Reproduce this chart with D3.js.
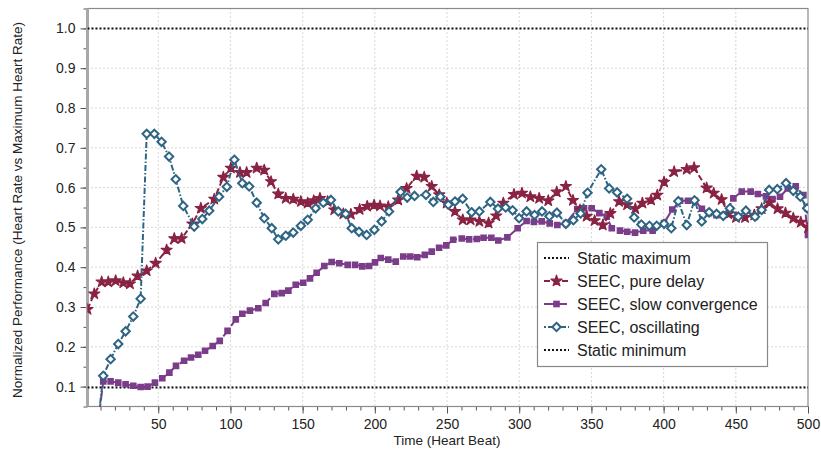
<!DOCTYPE html>
<html>
<head>
<meta charset="utf-8">
<script src="https://cdn.jsdelivr.net/npm/d3@7/dist/d3.min.js"></script>
<style>
  body { margin: 0; background: #fff; }
  text { font-family: "Liberation Sans", Arial, sans-serif; fill: #222; }
</style>
</head>
<body>
<svg id="chart" width="821" height="450"></svg>
<script>
// static bounds
var staticMax = 1.0;
var staticMin = 0.098;

// [heart beat, normalized performance]
var pureDelay = [
  [1, 0.294], [5.7, 0.333], [10.8, 0.363], [15.4, 0.363], [20.5, 0.366], [25.8, 0.361],
  [30.4, 0.358], [35.7, 0.378], [42, 0.391], [48.2, 0.410], [55.8, 0.443], [61.1, 0.472],
  [66.2, 0.472], [73.6, 0.509], [79.5, 0.548], [88.8, 0.571], [95.1, 0.626], [100.3, 0.649],
  [106.6, 0.638], [111.2, 0.638], [118.2, 0.649], [123.4, 0.644], [128.1, 0.615], [133.1, 0.584],
  [138.3, 0.573], [143.5, 0.571], [148.8, 0.565], [153.5, 0.561], [157.7, 0.567], [162, 0.573],
  [167.3, 0.565], [171.9, 0.544], [178.2, 0.534], [183.4, 0.533], [189.5, 0.545], [194.7, 0.553],
  [199.5, 0.556], [203.6, 0.554], [209.3, 0.552], [216.2, 0.569], [222, 0.598], [229, 0.629],
  [234.2, 0.626], [239.4, 0.603], [244.6, 0.582], [249.8, 0.561], [255.5, 0.540], [260.9, 0.519],
  [266.3, 0.519], [272.4, 0.515], [278.8, 0.511], [284.1, 0.529], [289, 0.561], [296.4, 0.583],
  [301.9, 0.586], [307.7, 0.577], [313.8, 0.573], [320.1, 0.567], [326, 0.589], [332.3, 0.603],
  [337.2, 0.568], [342.1, 0.544], [346.7, 0.528], [352.2, 0.517], [357.9, 0.506], [363.1, 0.535],
  [369.2, 0.565], [374.7, 0.557], [380.4, 0.547], [385.3, 0.561], [391.3, 0.569], [395.6, 0.581],
  [400.3, 0.614], [407.3, 0.640], [416, 0.646], [421.1, 0.650], [429.8, 0.599], [434.7, 0.586],
  [440.2, 0.570], [444.8, 0.534], [450.1, 0.525], [456.4, 0.525], [462.8, 0.531], [467.9, 0.547],
  [473.3, 0.562], [478.9, 0.547], [484.4, 0.536], [489.8, 0.523], [495, 0.513], [500, 0.499]
];

var slowConvergence = [
  [8, 0.0], [11.9, 0.113], [17, 0.113], [22.3, 0.110], [27.4, 0.106], [32.7, 0.102],
  [37.8, 0.099], [42.6, 0.100], [47.7, 0.110], [52.8, 0.121], [57.7, 0.135], [62.3, 0.152],
  [67.9, 0.165], [72.7, 0.173], [77.7, 0.180], [82.4, 0.190], [87.7, 0.202], [92.6, 0.215],
  [98, 0.240], [103.7, 0.269], [108.2, 0.283], [113.5, 0.291], [119.3, 0.297], [124.4, 0.310],
  [130.4, 0.333], [135.5, 0.335], [140.1, 0.341], [145.2, 0.356], [150.4, 0.361], [155.1, 0.372],
  [159.7, 0.386], [165, 0.403], [170.1, 0.413], [175.4, 0.410], [181.2, 0.406], [186.3, 0.406],
  [191.3, 0.402], [196, 0.403], [200.1, 0.412], [204.1, 0.423], [209.3, 0.419], [214.5, 0.414],
  [219.7, 0.427], [224.6, 0.427], [229.4, 0.425], [234.6, 0.431], [239.4, 0.439], [244.5, 0.449],
  [249.5, 0.455], [254.3, 0.469], [260.2, 0.472], [265.3, 0.470], [270.6, 0.471], [275.3, 0.474],
  [280.7, 0.474], [285.5, 0.467], [291.8, 0.475], [298.9, 0.498], [305.1, 0.516], [310.2, 0.514],
  [315.6, 0.515], [321.1, 0.510], [326.4, 0.506], [332.4, 0.511], [340.2, 0.546], [344.9, 0.548],
  [350.2, 0.548], [355.5, 0.536], [360.6, 0.527], [364.1, 0.498], [369.8, 0.492], [374.8, 0.489],
  [380.2, 0.487], [385.9, 0.492], [392.4, 0.492], [400.3, 0.511], [406, 0.545], [411.4, 0.567],
  [416.9, 0.567], [421.7, 0.567], [426.5, 0.547], [431.5, 0.536], [436.6, 0.531], [442.5, 0.532],
  [448.3, 0.573], [454.1, 0.590], [460.3, 0.590], [465.3, 0.584], [470.9, 0.578], [475.4, 0.571],
  [480.6, 0.577], [486, 0.598], [491.5, 0.603], [496.8, 0.581], [500, 0.481]
];

var oscillating = [
  [8, 0.0], [11.9, 0.127], [17, 0.169], [22.3, 0.207], [27.4, 0.239], [32.7, 0.276],
  [37.8, 0.321], [42, 0.735], [47.3, 0.735], [52.3, 0.715], [57.5, 0.678], [62.1, 0.621],
  [67.3, 0.554], [74.9, 0.502], [80.5, 0.521], [85.3, 0.542], [92.1, 0.577], [97.5, 0.602],
  [102.7, 0.670], [108.2, 0.611], [113, 0.603], [118.2, 0.562], [123.4, 0.523], [128.6, 0.498],
  [133.1, 0.470], [138.3, 0.479], [143.5, 0.487], [148.8, 0.504], [153.5, 0.519], [159, 0.548],
  [164.3, 0.562], [169.6, 0.569], [174.7, 0.540], [179.8, 0.534], [184, 0.498], [189, 0.489],
  [194.3, 0.481], [199.7, 0.494], [204.7, 0.515], [209.8, 0.540], [217.8, 0.589], [222.4, 0.575],
  [227.5, 0.579], [235.4, 0.582], [240.5, 0.564], [245.4, 0.577], [250.9, 0.557], [255.5, 0.565],
  [260.8, 0.572], [267, 0.538], [272.4, 0.540], [280, 0.564], [285.3, 0.547], [290.6, 0.550],
  [295.4, 0.543], [299.9, 0.523], [305.1, 0.540], [310.6, 0.531], [315.8, 0.540], [320.9, 0.528],
  [326.1, 0.537], [332.3, 0.509], [337.5, 0.518], [342.5, 0.535], [347.3, 0.587], [356.8, 0.646],
  [362.3, 0.598], [367.8, 0.588], [374.7, 0.572], [379.6, 0.525], [384.6, 0.507], [390.2, 0.504],
  [395.2, 0.504], [400.3, 0.509], [405.3, 0.498], [410.2, 0.566], [416, 0.506], [421.4, 0.568],
  [426.4, 0.515], [431.5, 0.538], [436.7, 0.534], [441.3, 0.529], [445.9, 0.548], [451.7, 0.527],
  [457, 0.542], [463.3, 0.527], [467.9, 0.544], [473.1, 0.594], [478.7, 0.596], [484.8, 0.611],
  [489.8, 0.592], [494.7, 0.577], [499.4, 0.548]
];

var xTicks = [50, 100, 150, 200, 250, 300, 350, 400, 450, 500];
var xMinorTicks = d3.range(10, 501, 10);
var yTicks = [0.1, 0.2, 0.3, 0.4, 0.5, 0.6, 0.7, 0.8, 0.9, 1.0];
var yMinorTicks = d3.range(0.05, 1.051, 0.05);

var legendLabels = ['Static maximum', 'SEEC, pure delay', 'SEEC, slow convergence',
                    'SEEC, oscillating', 'Static minimum'];

var RED = '#8a2343';
var PURPLE = '#7b3c8a';
var BLUE = '#2e6584';

var svg = d3.select('#chart');

var x = d3.scaleLinear().domain([1, 500]).range([87.5, 808]);
var y = d3.scaleLinear().domain([0.05, 1.05]).range([406.5, 8.5]);

svg.append('clipPath').attr('id', 'plot-clip')
  .append('rect')
    .attr('x', x.range()[0]).attr('y', y.range()[1])
    .attr('width', x.range()[1] - x.range()[0])
    .attr('height', y.range()[0] - y.range()[1]);

// grid
var grid = svg.append('g').attr('class', 'grid');
grid.selectAll('.vgrid').data(xTicks.slice(0, -1)).enter().append('line')
    .attr('x1', function(d) { return x(d); }).attr('x2', function(d) { return x(d); })
    .attr('y1', y(1.05)).attr('y2', y(0.05))
    .attr('stroke', '#b0b0b0').attr('stroke-width', 1).attr('stroke-dasharray', '1,3');
grid.selectAll('.hgrid').data(yTicks).enter().append('line')
    .attr('x1', x(1)).attr('x2', x(500))
    .attr('y1', function(d) { return y(d); }).attr('y2', function(d) { return y(d); })
    .attr('stroke', '#b0b0b0').attr('stroke-width', 1).attr('stroke-dasharray', '1,3');

// axes
function styleAxis(g) {
  g.select('.domain').remove();
  g.selectAll('.tick line').attr('stroke', '#555');
  g.selectAll('.tick text').style('font-size', '14px').attr('fill', '#222');
}

svg.append('g').attr('transform', 'translate(0,' + y(0.05) + ')')
    .call(d3.axisBottom(x).tickValues(xMinorTicks).tickSize(4).tickFormat(''))
    .call(styleAxis);
svg.append('g').attr('transform', 'translate(0,' + y(0.05) + ')')
    .call(d3.axisBottom(x).tickValues(xTicks).tickSize(7).tickPadding(6).tickFormat(d3.format('d')))
    .call(styleAxis);

svg.append('g').attr('transform', 'translate(' + x(1) + ',0)')
    .call(d3.axisLeft(y).tickValues(yMinorTicks).tickSize(4).tickFormat(''))
    .call(styleAxis);
svg.append('g').attr('transform', 'translate(' + x(1) + ',0)')
    .call(d3.axisLeft(y).tickValues(yTicks).tickSize(7).tickPadding(5).tickFormat(d3.format('.1f')))
    .call(styleAxis);

// frame
svg.append('rect')
    .attr('x', x(1)).attr('y', y(1.05))
    .attr('width', x(500) - x(1)).attr('height', y(0.05) - y(1.05))
    .attr('fill', 'none').attr('stroke', '#8a8a8a').attr('stroke-width', 1.2);
svg.append('line')
    .attr('x1', x(1)).attr('x2', x(1)).attr('y1', y(1.05)).attr('y2', y(0.05))
    .attr('stroke', '#a8a8a8').attr('stroke-width', 3);

// axis titles
svg.append('text').attr('x', 447).attr('y', 445).attr('text-anchor', 'middle')
    .style('font-size', '13.5px').text('Time (Heart Beat)');
svg.append('text').attr('transform', 'translate(22,210) rotate(-90)').attr('text-anchor', 'middle')
    .style('font-size', '13.5px').text('Normalized Performance (Heart Rate vs Maximum Heart Rate)');

// series
var plot = svg.append('g').attr('clip-path', 'url(#plot-clip)');

var line = d3.line().x(function(d) { return x(d[0]); }).y(function(d) { return y(d[1]); });

function hline(v) {
  plot.append('line')
      .attr('x1', x(1)).attr('x2', x(500)).attr('y1', y(v)).attr('y2', y(v))
      .attr('stroke', '#111').attr('stroke-width', 2).attr('stroke-dasharray', '2,2');
}
hline(staticMax);
hline(staticMin);

var star = d3.symbol().type(d3.symbolStar).size(38);
var square = d3.symbol().type(d3.symbolSquare).size(44);
var diamond = 'M0,-4.2L4.2,0L0,4.2L-4.2,0Z';

var series = [
  {data: slowConvergence, color: PURPLE, dash: '10,3', marker: 'square'},
  {data: pureDelay, color: RED, dash: '6,3', marker: 'star'},
  {data: oscillating, color: BLUE, dash: '6,2,1.5,2', marker: 'diamond'}
];

function drawMarker(sel, kind, color) {
  if (kind === 'star') {
    sel.append('path').attr('d', star()).attr('fill', color).attr('stroke', color)
        .attr('stroke-width', 1.2).attr('stroke-linejoin', 'round');
  } else if (kind === 'square') {
    sel.append('path').attr('d', square()).attr('fill', color);
  } else {
    sel.append('path').attr('d', diamond).attr('fill', '#fff').attr('stroke', color).attr('stroke-width', 2);
  }
}

series.forEach(function(s) {
  plot.append('path').datum(s.data)
      .attr('d', line).attr('fill', 'none')
      .attr('stroke', s.color).attr('stroke-width', 2).attr('stroke-dasharray', s.dash);
  plot.selectAll(null).data(s.data).enter().append('g')
      .attr('transform', function(d) { return 'translate(' + x(d[0]) + ',' + y(d[1]) + ')'; })
      .each(function() { drawMarker(d3.select(this), s.marker, s.color); });
});

// legend
var legendStyles = [
  {color: '#111', dash: '2,2', marker: null},
  {color: RED, dash: '6,3', marker: 'star'},
  {color: PURPLE, dash: '10,3', marker: 'square'},
  {color: BLUE, dash: '2,2,6,2', marker: 'diamond'},
  {color: '#111', dash: '2,2', marker: null}
];

var legend = svg.append('g');
legend.append('rect')
    .attr('x', 537.5).attr('y', 242.5).attr('width', 230).attr('height', 124)
    .attr('fill', '#fff').attr('stroke', '#888').attr('stroke-width', 1.2);

var rows = legend.selectAll('.row').data(legendLabels).enter().append('g')
    .attr('transform', function(d, i) { return 'translate(0,' + (258 + i * 23) + ')'; });
rows.append('line')
    .attr('x1', 544).attr('x2', 569).attr('y1', 0).attr('y2', 0)
    .attr('stroke', function(d, i) { return legendStyles[i].color; })
    .attr('stroke-width', 2)
    .attr('stroke-dasharray', function(d, i) { return legendStyles[i].dash; });
rows.each(function(d, i) {
  var st = legendStyles[i];
  if (st.marker) {
    drawMarker(d3.select(this).append('g').attr('transform', 'translate(556.5,0)'), st.marker, st.color);
  }
});
rows.append('text')
    .attr('x', 577).attr('y', 0).attr('dy', '0.35em')
    .style('font-size', '16px')
    .text(function(d) { return d; });
</script>
</body>
</html>
